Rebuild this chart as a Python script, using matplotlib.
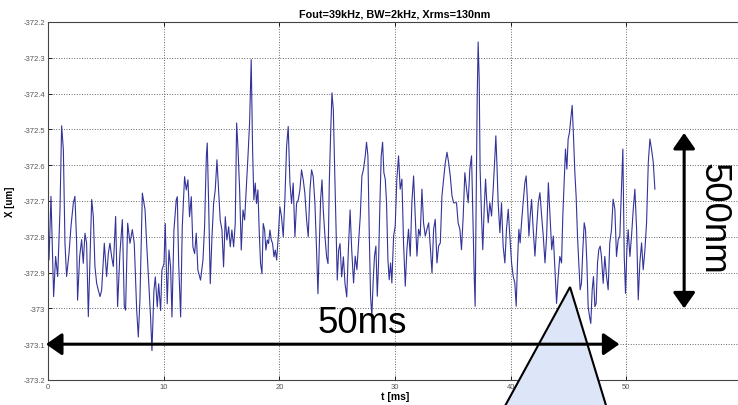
import matplotlib
matplotlib.use("Agg")
import matplotlib.pyplot as plt
from matplotlib.patches import Polygon

plt.rcParams["font.family"] = ["Liberation Sans", "DejaVu Sans"]

# Zajem signala: čas [ms] in odmik X [um], odčitano s slike.
t_ms = [
    0.09, 0.26, 0.37, 0.49, 0.66, 0.84, 1.04, 1.18, 1.33, 1.47, 1.61, 1.82, 1.99, 2.19,
    2.33, 2.48, 2.56, 2.74, 2.91, 3.05, 3.20, 3.34, 3.49, 3.63, 3.78, 3.92, 4.06, 4.21,
    4.35, 4.50, 4.64, 4.87, 5.07, 5.22, 5.36, 5.50, 5.65, 5.85, 6.02, 6.22, 6.43, 6.60,
    6.71, 6.89, 7.09, 7.29, 7.46, 7.67, 7.81, 7.95, 8.16, 8.39, 8.53,
    8.87, 8.99, 9.16, 9.28, 9.45, 9.57, 9.74, 9.85, 10.03, 10.14, 10.31, 10.46, 10.60,
    10.72, 10.89, 11.09, 11.18, 11.30, 11.47, 11.61, 11.81, 11.96, 12.10, 12.24, 12.39,
    12.53, 12.68, 12.82, 12.96, 13.19, 13.40, 13.54, 13.69, 13.77, 13.89, 14.03, 14.18,
    14.32, 14.46, 14.61, 14.75, 14.89, 15.04, 15.18, 15.33, 15.47, 15.62, 15.76, 15.90,
    16.05, 16.19, 16.31, 16.42, 16.57, 16.71, 16.86, 17.00, 17.14, 17.29, 17.43, 17.57,
    17.69, 17.80, 17.92, 18.03, 18.15, 18.27, 18.38, 18.50, 18.61, 18.73, 18.84, 18.96,
    19.07, 19.19, 19.31, 19.42, 19.54, 19.65, 19.77, 19.91, 20.05, 20.19, 20.34, 20.48,
    20.63, 20.77, 20.92, 21.06, 21.20, 21.35, 21.49, 21.64, 21.78, 21.92, 22.07, 22.21,
    22.36, 22.50, 22.65, 22.79, 22.93, 23.08, 23.22, 23.34, 23.45, 23.57, 23.69, 23.80,
    23.95, 24.09, 24.21, 24.32, 24.44, 24.55, 24.67, 24.78, 24.90, 25.01, 25.13, 25.25,
    25.39, 25.54, 25.68, 25.83, 25.97, 26.12, 26.26,
    26.42, 26.56, 26.71, 26.85, 27.00, 27.14, 27.28, 27.43, 27.54, 27.66, 27.77, 27.89,
    28.00, 28.12, 28.23, 28.35, 28.47, 28.58, 28.70, 28.81, 28.93, 29.04, 29.16, 29.27,
    29.39, 29.50, 29.62, 29.73, 29.88, 30.02, 30.16, 30.31, 30.45, 30.60, 30.74, 30.89,
    31.03, 31.17, 31.32, 31.46, 31.61, 31.75, 31.90, 32.04, 32.18, 32.33, 32.47, 32.62,
    32.76, 32.91, 33.05, 33.20, 33.34, 33.48, 33.63, 33.77, 33.92, 34.06, 34.21, 34.35,
    34.50, 34.64, 34.78, 34.93, 35.07,
    35.32, 35.46, 35.61, 35.75, 35.90, 36.04, 36.19, 36.33, 36.47, 36.62, 36.76, 36.85,
    36.93, 37.02, 37.11, 37.19, 37.28, 37.36, 37.48, 37.59, 37.71, 37.83, 37.94, 38.06,
    38.20, 38.35, 38.49, 38.64, 38.72, 38.81, 38.92, 39.07, 39.21, 39.35, 39.50, 39.64,
    39.79, 39.93, 40.08, 40.22, 40.36, 40.48, 40.59, 40.71, 40.82, 40.94, 41.08, 41.23,
    41.34, 41.46, 41.58, 41.69, 41.81, 41.95, 42.10, 42.24, 42.39, 42.53, 42.68, 42.82,
    42.97, 43.11, 43.26, 43.40, 43.55, 43.69,
    43.97, 44.11, 44.25, 44.40, 44.51, 44.63, 44.74, 44.86, 44.97, 45.09, 45.20, 45.32,
    45.43, 45.55, 45.66, 45.78, 45.89, 46.01, 46.12, 46.24, 46.36, 46.47, 46.59, 46.70,
    46.82, 46.93, 47.05, 47.16, 47.28, 47.39, 47.51, 47.62, 47.74, 47.85, 48.00, 48.14,
    48.29, 48.43, 48.57, 48.72, 48.86, 49.01, 49.15, 49.30, 49.44, 49.58, 49.70, 49.82,
    49.93, 50.05, 50.16, 50.31, 50.45, 50.60, 50.74, 50.89, 51.03, 51.17, 51.32, 51.46,
    51.61, 51.75, 51.90, 52.04, 52.18, 52.33, 52.47,
]
x_um = [
    -372.864, -372.687, -372.818, -372.967, -372.855, -372.911, -372.724, -372.490,
    -372.556, -372.818, -372.911, -372.846, -372.771, -372.706, -372.687, -372.818,
    -372.977, -372.855, -372.808, -372.874, -372.790, -372.818, -373.023, -372.864,
    -372.696, -372.743, -372.883, -372.930, -372.949, -372.967, -372.949, -372.818,
    -372.911, -372.846, -372.818, -372.855, -372.883, -372.743, -372.995, -372.846,
    -372.752, -372.995, -373.005, -372.762, -372.818, -372.780, -372.818, -373.005,
    -373.080, -372.977, -372.678, -372.724, -372.818,
    -373.024, -373.118, -372.950, -372.912, -372.996, -372.931, -373.006, -372.893,
    -372.875, -372.763, -372.987, -372.837, -372.884, -373.024, -372.781, -372.697,
    -372.688, -372.875, -373.024, -372.772, -372.632, -372.669, -372.641, -372.744,
    -372.688, -372.828, -372.847, -372.790, -372.893, -372.921, -372.865, -372.772,
    -372.576, -372.538, -372.707, -372.931, -372.800, -372.707, -372.669, -372.585,
    -372.669, -372.753, -372.781, -372.884, -372.744, -372.809, -372.772, -372.828,
    -372.781, -372.828, -372.763, -372.482, -372.548, -372.669, -372.837, -372.725,
    -372.753, -372.669, -372.576, -372.482, -372.305,
    -372.557, -372.697, -372.650, -372.707, -372.669, -372.791, -372.875, -372.903,
    -372.763, -372.781, -372.837, -372.809, -372.819, -372.781, -372.809, -372.819,
    -372.856, -372.837, -372.865, -372.800, -372.716, -372.744, -372.800, -372.697,
    -372.548, -372.492, -372.650, -372.707, -372.650, -372.800, -372.707, -372.697,
    -372.669, -372.613, -372.641, -372.679, -372.753, -372.800, -372.669, -372.613,
    -372.632, -372.707, -372.837, -372.959, -372.837, -372.697, -372.641, -372.725,
    -372.800, -372.856, -372.875, -372.650, -372.510, -372.398, -372.445, -372.604,
    -372.763, -372.921, -372.837, -372.819, -372.912, -372.856, -372.931, -372.968,
    -372.837, -372.725, -372.837,
    -372.929, -372.854, -372.892, -372.817, -372.742, -372.630, -372.611, -372.574,
    -372.536, -372.574, -372.779, -372.966, -373.022, -372.920, -372.854, -372.826,
    -372.966, -372.873, -372.705, -372.574, -372.536, -372.621, -372.639, -372.705,
    -372.864, -372.920, -372.873, -372.929, -372.798, -372.770, -372.639, -372.574,
    -372.667, -372.639, -372.817, -372.938, -372.836, -372.779, -372.854, -372.705,
    -372.630, -372.742, -372.854, -372.779, -372.798, -372.667, -372.761, -372.798,
    -372.779, -372.761, -372.826, -372.901, -372.779, -372.751, -372.873, -372.826,
    -372.817, -372.686, -372.639, -372.593, -372.564, -372.593, -372.630, -372.686,
    -372.705,
    -372.705, -372.761, -372.779, -372.836, -372.742, -372.621, -372.667, -372.705,
    -372.611, -372.574, -372.779, -372.910, -372.994, -372.686, -372.406, -372.256,
    -372.359, -372.611, -372.742, -372.836, -372.723, -372.639, -372.705, -372.761,
    -372.705, -372.742, -372.667, -372.574, -372.518, -372.593, -372.705, -372.789,
    -372.705, -372.826, -372.873, -372.779, -372.723, -372.798, -372.873, -372.910,
    -372.929, -372.994, -372.873, -372.779, -372.817, -372.761, -372.705, -372.649,
    -372.630, -372.705, -372.798, -372.742, -372.696, -372.779, -372.854, -372.779,
    -372.705, -372.677, -372.742, -372.798, -372.873, -372.798, -372.649, -372.742,
    -372.836, -372.798,
    -372.986, -372.911, -372.855, -372.873, -372.742, -372.648, -372.555, -372.611,
    -372.527, -372.508, -372.470, -372.433, -372.517, -372.620, -372.686, -372.798,
    -372.873, -372.948, -372.930, -372.836, -372.761, -372.780, -372.873, -372.995,
    -373.023, -373.042, -372.948, -372.911, -372.995, -372.986, -372.873, -372.836,
    -372.826, -372.855, -372.930, -372.855, -372.911, -372.948, -372.817, -372.780,
    -372.695, -372.723, -372.855, -372.808, -372.798, -372.667, -372.555, -372.855,
    -372.958, -372.836, -372.780, -372.855, -372.798, -372.723, -372.667, -372.780,
    -372.976, -372.873, -372.817, -372.892, -372.836, -372.761, -372.592, -372.527,
    -372.555, -372.592, -372.667,
]

x_ticks = [0, 10, 20, 30, 40, 50]
y_ticks = [-372.2, -372.3, -372.4, -372.5, -372.6, -372.7, -372.8, -372.9, -373.0, -373.1, -373.2]
y_tick_labels = ["-372.2", "-372.3", "-372.4", "-372.5", "-372.6", "-372.7",
                 "-372.8", "-372.9", "-373", "-373.1", "-373.2"]

fig = plt.figure(figsize=(7.38, 4.06), dpi=100)
ax = fig.add_axes([0.065, 0.0616, 0.9404, 0.8818])

ax.plot(t_ms, x_um, color="#33339a", linewidth=0.8)

ax.set_xlim(0, 60)
ax.set_ylim(-373.2, -372.2)
ax.set_xticks(x_ticks)
ax.set_yticks(y_ticks)
ax.set_yticklabels(y_tick_labels)
ax.tick_params(direction="in", length=3, width=0.6, labelsize=5.5,
               labelcolor="#555555", pad=2, top=True, right=True)
ax.grid(True, linestyle=":", color="#666666", linewidth=0.7)
for s in ax.spines.values():
    s.set_color("#444444")
    s.set_linewidth(0.8)

ax.set_title("Fout=39kHz, BW=2kHz, Xrms=130nm", fontsize=7.8, fontweight="bold", pad=4)
ax.set_xlabel("t [ms]", fontsize=7.5, fontweight="bold", labelpad=1)
ax.set_ylabel("X [um]", fontsize=7, fontweight="bold", labelpad=6)

# Trikotnik (oblaček) čez spodnji del slike.
tri = Polygon([(0.7724, 0.2906), (0.667, -0.06), (0.831, -0.06)], closed=True,
              transform=fig.transFigure, facecolor="#dce6f8", edgecolor="black",
              linewidth=1.5, clip_on=False, zorder=5)
ax.add_patch(tri)

arrow_style = "<|-|>,head_length=0.4,head_width=0.28"
ax.annotate("", xy=(-0.17, -373.1), xytext=(49.4, -373.1),
            arrowprops=dict(arrowstyle=arrow_style, lw=2.2, color="black",
                            mutation_scale=24, shrinkA=0, shrinkB=0),
            annotation_clip=False, zorder=6)
ax.annotate("", xy=(55.0, -372.51), xytext=(55.0, -373.0),
            arrowprops=dict(arrowstyle=arrow_style, lw=2.2, color="black",
                            mutation_scale=24, shrinkA=0, shrinkB=0),
            annotation_clip=False, zorder=6)

ax.text(27.2, -373.066, "50ms", fontsize=26.5, ha="center", va="baseline", zorder=7)
ax.text(57.5, -372.747, "500nm", fontsize=26.5, rotation=270, ha="center",
        va="center", zorder=7, clip_on=False)

fig.savefig("out.png", dpi=100)
